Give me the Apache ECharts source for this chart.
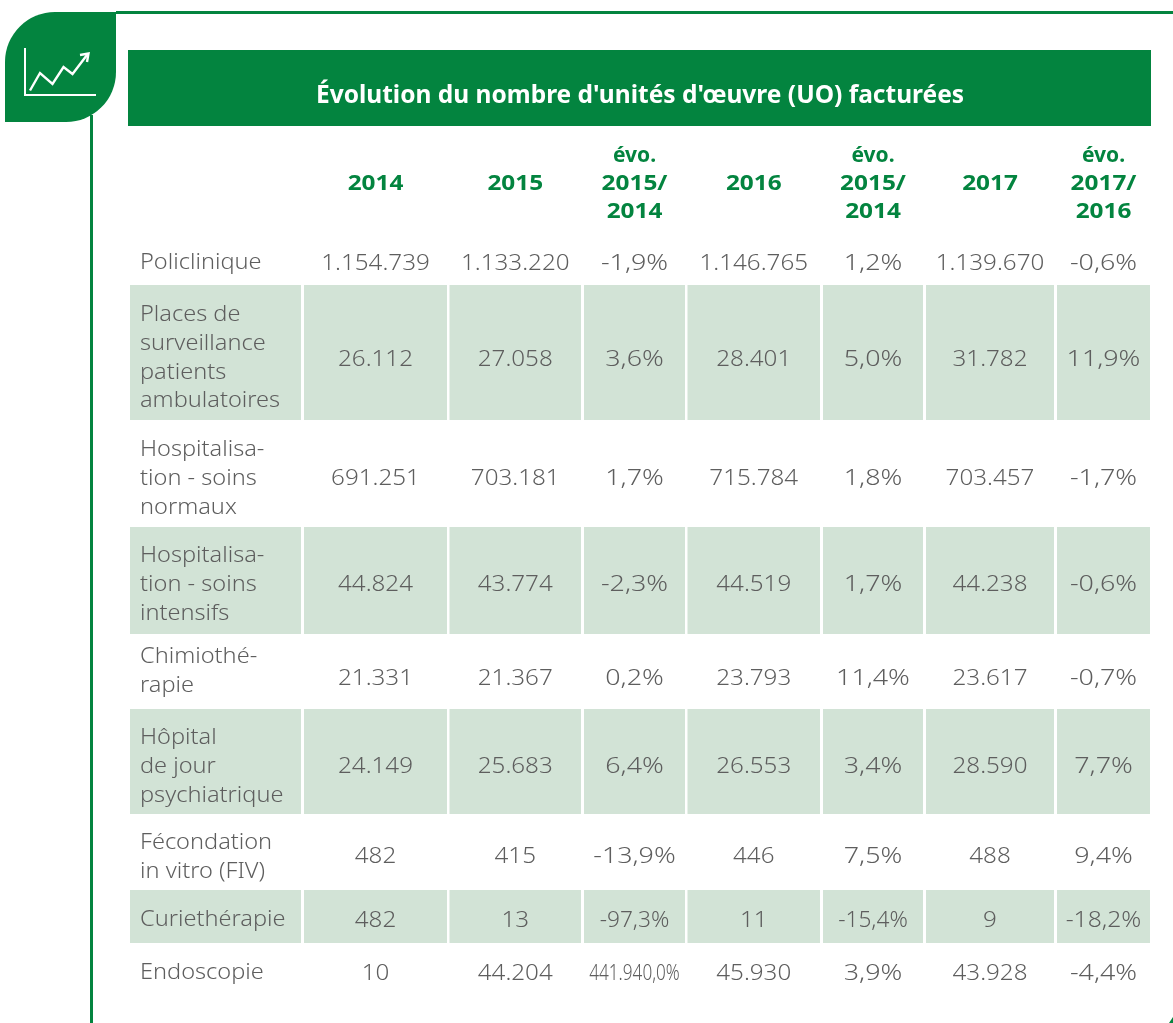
<!DOCTYPE html>
<html><head><meta charset="utf-8">
<style>html,body{margin:0;padding:0;background:#fff}#c{width:1173px;height:1023px}</style>
<script src="https://cdn.jsdelivr.net/npm/echarts@6/dist/echarts.min.js"></script></head>
<body><div id="c"></div>
<script>
// ---- data ----
const titleText = "Évolution du nombre d'unités d'œuvre (UO) facturées";
const columnHeaders = ["2014","2015","évo.\n2015/\n2014","2016","évo.\n2015/\n2014","2017","évo.\n2017/\n2016"];
const categories = ["Policlinique","Places de\nsurveillance\npatients\nambulatoires","Hospitalisa-\ntion - soins\nnormaux","Hospitalisa-\ntion - soins\nintensifs","Chimiothé-\nrapie","Hôpital\nde jour\npsychiatrique","Fécondation\nin vitro (FIV)","Curiethérapie","Endoscopie"];
const uo2014 = [1154739,26112,691251,44824,21331,24149,482,482,10];
const uo2015 = [1133220,27058,703181,43774,21367,25683,415,13,44204];
const evo2015 = [-1.9,3.6,1.7,-2.3,0.2,6.4,-13.9,-97.3,441940.0];
const uo2016 = [1146765,28401,715784,44519,23793,26553,446,11,45930];
const evo2016 = [1.2,5.0,1.8,1.7,11.4,3.4,7.5,-15.4,3.9];
const uo2017 = [1139670,31782,703457,44238,23617,28590,488,9,43928];
const evo2017 = [-0.6,11.9,-1.7,-0.6,-0.7,7.7,9.4,-18.2,-4.4];
const tableColumns = [uo2014,uo2015,evo2015,uo2016,evo2016,uo2017,evo2017];
const isEvo = [false,false,true,false,true,false,true];

// ---- layout (pixels of the axes, kept apart from the data) ----
const colEdges = [[130,301],[304,447],[449.5,581],[584,685],[687.5,820],[823,923],[926,1054],[1057,1150]];
const rowEdges = [[240,285],[285,420],[420,527],[527,634],[634,709],[709,814],[814,890],[890,943],[943,1000]];
const rowCentre = [264,360,479,585,679,767,857,921,974];
const labelCentre = [263,358,479,585,671,767,857,920,973];
const headerCentreY = 184.5;
const labelLine = 28.8;
const GREEN = "#03843f", BAND = "#d2e3d6", TEXT = "#5e5e5e";
const FONT = "'Noto Sans'";
const numScale = 1.1, evoScale = 1.22, labelScale = 1.07, headScale = 1.16;
const squeezed = {"441.940,0%":0.78,"-97,3%":1.03,"-15,4%":1.03,"-18,2%":1.12};

const fmtInt = v => String(v).replace(/\B(?=(\d{3})+$)/g,".");
const fmtEvo = v => {
  const s = Math.abs(v).toFixed(1).split(".");
  return (v<0?"-":"") + fmtInt(s[0]) + "," + s[1] + "%";
};

const bandData = [];
[1,3,5,7].forEach(r => colEdges.forEach((c,i) => bandData.push([i,r])));
const cellData = [];
tableColumns.forEach((col,ci) => col.forEach((v,r) => cellData.push([ci+1,r,isEvo[ci]?fmtEvo(v):fmtInt(v)])));
const labelData = categories.map((t,r)=>[0,r]);
const headerData = columnHeaders.map((t,i)=>[i+1,t]);

const chart = echarts.init(document.getElementById('c'),null,{renderer:'canvas'});
chart.setOption({
  animation:false,
  grid:{left:0,right:0,top:0,bottom:0},
  xAxis:{type:'value',min:0,max:1173,show:false},
  yAxis:{type:'value',min:0,max:1023,inverse:true,show:false},
  graphic:[
    {type:'rect',z:1,shape:{x:116,y:11,width:1057,height:3},style:{fill:GREEN}},
    {type:'rect',z:1,shape:{x:90,y:115,width:3,height:908},style:{fill:GREEN}},
    {type:'rect',z:2,shape:{x:5,y:12,width:111,height:110,r:[50,0,50,0]},style:{fill:GREEN}},
    {type:'polyline',z:3,shape:{points:[[25,48],[25,95],[96,95]]},style:{stroke:'#fff',lineWidth:2,fill:null}},
    {type:'polyline',z:3,shape:{points:[[30,90.5],[40,73],[52.5,84],[63.5,67],[72.5,74],[87,55]]},style:{stroke:'#fff',lineWidth:2.4,fill:null}},
    {type:'polyline',z:3,shape:{points:[[80,55],[88.5,53.5],[87,62]]},style:{stroke:'#fff',lineWidth:2.4,fill:null}},
    {type:'polygon',z:1,shape:{points:[[1173,1017],[1173,1023],[1169,1023]]},style:{fill:GREEN}},
    {type:'rect',z:1,shape:{x:128,y:50,width:1023,height:76},style:{fill:GREEN}},
    {type:'text',z:3,x:640,y:96.5,style:{text:titleText,fill:'#fff',font:"bold 24.5px "+FONT,align:'center',verticalAlign:'middle'}}
  ],
  series:[
    {type:'custom',coordinateSystem:'cartesian2d',silent:true,data:bandData,z:1,
     renderItem(p,api){
       const c=colEdges[api.value(0)],r=rowEdges[api.value(1)];
       const a=api.coord([c[0],r[0]]),b=api.coord([c[1],r[1]]);
       return {type:'rect',shape:{x:a[0],y:a[1],width:b[0]-a[0],height:b[1]-a[1]},style:{fill:BAND}};
     }},
    {type:'custom',coordinateSystem:'cartesian2d',silent:true,data:labelData,z:2,
     renderItem(p,api){
       const r=api.value(1),t=categories[r];
       const a=api.coord([140,labelCentre[r]]);
       return {type:'text',x:a[0],y:a[1],scaleX:labelScale,style:{text:t,fill:TEXT,font:"300 22px "+FONT,lineHeight:labelLine,align:'left',verticalAlign:'middle'}};
     }},
    {type:'custom',coordinateSystem:'cartesian2d',silent:true,data:cellData.map(d=>[d[0],d[1]]),z:2,
     renderItem(p,api){
       const d=cellData[p.dataIndex],c=colEdges[d[0]];
       const a=api.coord([(c[0]+c[1])/2,rowCentre[d[1]]]);
       const pct=d[2].endsWith('%');
       const sx=squeezed[d[2]]||(pct?evoScale:numScale);
       return {type:'text',x:a[0],y:a[1],scaleX:sx,
         style:{text:d[2],fill:TEXT,font:"300 22px "+FONT,align:'center',verticalAlign:'middle'}};
     }},
    {type:'custom',coordinateSystem:'cartesian2d',silent:true,data:headerData.map(d=>[d[0],0]),z:2,
     renderItem(p,api){
       const d=headerData[p.dataIndex],c=colEdges[d[0]],lines=d[1].split("\n");
       const x=(c[0]+c[1])/2;
       return {type:'group',children:lines.map((t,i)=>{
         const a=api.coord([x,headerCentreY+(i-(lines.length-1)/2)*28]);
         return {type:'text',x:a[0],y:a[1],scaleX:/^\d/.test(t)?headScale:1,
           style:{text:t,fill:GREEN,font:"bold 21px "+FONT,align:'center',verticalAlign:'middle'}};
       })};
     }}
  ]
});
</script></body></html>
